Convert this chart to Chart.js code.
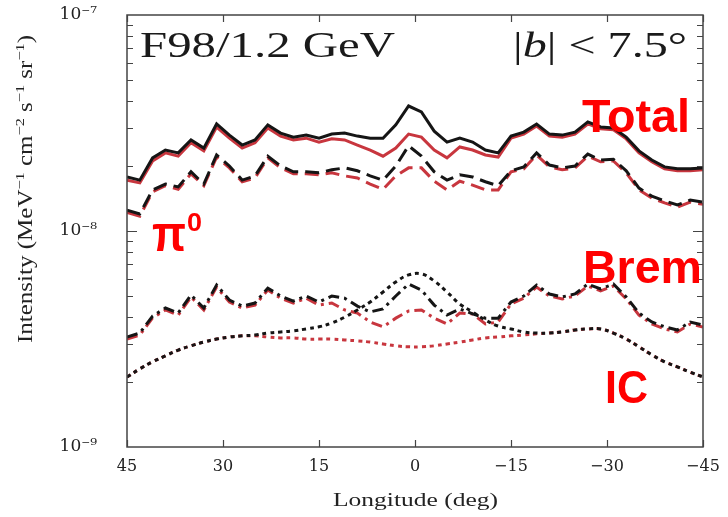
<!DOCTYPE html>
<html>
<head>
<meta charset="utf-8">
<script src="https://cdn.jsdelivr.net/npm/chart.js@4.4.1/dist/chart.umd.min.js"></script>
<style>
  html, body { margin: 0; padding: 0; background: #fff; }
</style>
</head>
<body>
<canvas id="chart" width="728" height="517"></canvas>
<script>
// longitude grid (deg), values in units of 1e-9 MeV^-1 cm^-2 s^-1 sr^-1
const longitude = [45, 43, 41, 39, 37, 35, 33, 31, 29, 27, 25, 23, 21, 19, 17, 15, 13, 11, 9, 7, 5, 3, 1,
  -1, -3, -5, -7, -9, -11, -13, -15, -17, -19, -21, -23, -25, -27, -29, -31, -33, -35, -37, -39, -41, -43, -45];

const totalBlack = [17.8, 17.2, 21.8, 23.7, 23.0, 26.4, 24.2, 31.3, 27.8, 25.0, 26.4, 31.0, 28.4, 27.2, 27.8, 26.9,
  28.1, 28.4, 27.5, 26.9, 26.9, 31.0, 37.9, 35.6, 29.0, 25.8, 26.9, 25.8, 23.7, 23.0, 27.5, 28.7, 31.3, 28.1, 27.8,
  28.7, 32.0, 30.3, 30.0, 27.2, 23.5, 21.3, 19.8, 19.4, 19.4, 19.6];
const totalRed = [17.2, 16.7, 21.1, 23.0, 22.2, 25.6, 23.5, 30.3, 26.9, 24.2, 25.6, 30.0, 27.5, 26.4, 26.9, 25.8,
  26.7, 26.4, 25.0, 23.7, 22.2, 24.2, 28.1, 27.2, 23.7, 21.8, 24.5, 23.7, 22.5, 22.0, 26.9, 28.1, 30.6, 27.5, 27.2,
  28.1, 31.3, 29.7, 29.4, 26.7, 23.0, 20.9, 19.4, 19.0, 19.0, 19.2];

const pionBlack = [12.5, 12.0, 15.5, 16.5, 16.0, 18.8, 16.5, 22.5, 20.0, 17.2, 18.0, 22.2, 20.0, 18.8, 18.8, 18.6,
  19.2, 19.6, 19.0, 18.0, 17.2, 20.0, 24.8, 22.2, 18.8, 17.2, 18.2, 17.8, 16.9, 16.2, 19.0, 19.8, 23.0, 20.2, 19.6,
  20.0, 22.7, 21.3, 21.5, 19.0, 15.8, 14.5, 13.8, 13.2, 13.9, 13.6];
const pionRed = [12.2, 11.7, 15.2, 16.2, 15.6, 18.4, 16.2, 22.0, 19.6, 16.9, 17.6, 21.8, 19.6, 18.4, 18.4, 18.2,
  18.6, 18.0, 17.6, 16.5, 15.6, 18.0, 19.6, 19.6, 17.0, 15.5, 17.0, 16.3, 15.5, 15.5, 18.8, 19.4, 22.5, 19.8, 19.2,
  19.6, 22.2, 20.9, 21.1, 18.6, 15.5, 14.2, 13.5, 12.9, 13.6, 13.3];

const bremBlack = [3.23, 3.37, 4.04, 4.40, 4.17, 5.05, 4.40, 5.62, 4.79, 4.49, 4.64, 5.44, 5.00, 4.74, 5.00, 4.69,
  5.00, 4.89, 4.49, 4.22, 4.36, 5.00, 5.68, 5.33, 4.54, 4.08, 4.36, 4.13, 3.95, 3.95, 4.69, 5.00, 5.62, 5.11, 4.95,
  5.11, 5.68, 5.39, 5.68, 4.95, 4.17, 3.79, 3.60, 3.48, 3.79, 3.67];
const bremRed = [3.16, 3.30, 3.96, 4.31, 4.08, 4.95, 4.31, 5.50, 4.69, 4.40, 4.54, 5.33, 4.89, 4.64, 4.89, 4.54,
  4.64, 4.31, 4.17, 3.79, 3.60, 3.95, 4.26, 4.31, 3.95, 3.71, 4.17, 4.13, 3.71, 3.79, 4.59, 4.89, 5.50, 5.00, 4.85,
  5.00, 5.56, 5.28, 5.56, 4.85, 4.08, 3.71, 3.52, 3.41, 3.71, 3.59];

const icBlack = [2.11, 2.30, 2.48, 2.64, 2.81, 2.94, 3.06, 3.16, 3.23, 3.27, 3.30, 3.37, 3.41, 3.45, 3.52, 3.60,
  3.75, 3.99, 4.31, 4.69, 5.22, 5.81, 6.26, 6.33, 5.87, 5.22, 4.59, 4.22, 3.87, 3.63, 3.52, 3.41, 3.37, 3.37, 3.41,
  3.48, 3.52, 3.52, 3.37, 3.16, 2.91, 2.67, 2.48, 2.35, 2.22, 2.11];
const icRed = [2.11, 2.30, 2.48, 2.64, 2.81, 2.94, 3.06, 3.16, 3.23, 3.27, 3.27, 3.23, 3.20, 3.20, 3.16, 3.16,
  3.16, 3.13, 3.10, 3.06, 3.00, 2.94, 2.91, 2.91, 2.94, 3.00, 3.06, 3.13, 3.20, 3.23, 3.27, 3.30, 3.34, 3.37, 3.41,
  3.48, 3.52, 3.52, 3.37, 3.16, 2.91, 2.67, 2.48, 2.35, 2.22, 2.11];

const yTickValues = [1e-9, 1e-8, 1e-7];
const yTickLabels = ['10\u207B\u2079', '10\u207B\u2078', '10\u207B\u2077'];
const xTickValues = [45, 30, 15, 0, -15, -30, -45];

const UNIT = 1e-9;
const BLACK = '#151515';
const RED = '#c8363e';
const SERIF = '"Liberation Serif", "DejaVu Serif", serif';

const toPoints = arr => longitude.map((l, i) => ({ x: l, y: arr[i] * UNIT }));

function line(data, color, dash, smooth) {
  return {
    data: toPoints(data),
    borderColor: color,
    borderWidth: 3,
    borderDash: dash,
    pointRadius: 0,
    tension: smooth ? 0.4 : 0,
    fill: false
  };
}

// draw a run of text pieces stretched to a given width
function drawFitted(ctx, parts, x, y, width) {
  let total = 0;
  parts.forEach(p => { ctx.font = p.font; p.w = ctx.measureText(p.t).width; total += p.w; });
  ctx.save();
  ctx.translate(x, y);
  ctx.scale(width / total, 1);
  let cx = 0;
  parts.forEach(p => {
    ctx.font = p.font;
    ctx.fillText(p.t, cx, p.dy || 0);
    cx += p.w;
  });
  ctx.restore();
}

const decorations = {
  id: 'decorations',
  afterDraw(chart) {
    const { ctx, chartArea: a, scales } = chart;
    const ys = scales.y, xs = scales.x;
    ctx.save();
    ctx.strokeStyle = '#444';
    ctx.lineWidth = 1.5;
    ctx.strokeRect(a.left, a.top, a.right - a.left, a.bottom - a.top);

    // log minor ticks on both sides
    ctx.lineWidth = 1.2;
    ctx.beginPath();
    [-9, -8].forEach(d => {
      for (let m = 1; m <= 9; m++) {
        if (m === 1 && d === -9) continue;
        const py = Math.round(ys.getPixelForValue(m * Math.pow(10, d))) + 0.5;
        const len = m === 1 ? 10 : 6;
        ctx.moveTo(a.left, py); ctx.lineTo(a.left + len, py);
        ctx.moveTo(a.right, py); ctx.lineTo(a.right - len, py);
      }
    });
    xTickValues.forEach(v => {
      const px = Math.round(xs.getPixelForValue(v)) + 0.5;
      ctx.moveTo(px, a.bottom); ctx.lineTo(px, a.bottom - 7);
      ctx.moveTo(px, a.top); ctx.lineTo(px, a.top + 7);
    });
    ctx.stroke();

    ctx.fillStyle = '#1a1a1a';
    ctx.textBaseline = 'alphabetic';
    drawFitted(ctx, [{ t: 'F98/1.2 GeV', font: '36px ' + SERIF }], 140, 57, 255);
    drawFitted(ctx, [
      { t: '|', font: '36px ' + SERIF },
      { t: 'b', font: 'italic 36px ' + SERIF },
      { t: '| < 7.5\u00B0', font: '36px ' + SERIF }
    ], 513, 57, 174);

    // axis titles
    ctx.fillStyle = '#222';
    drawFitted(ctx, [{ t: 'Longitude (deg)', font: '18px ' + SERIF }], 333, 506, 165);
    ctx.save();
    ctx.translate(32, 343);
    ctx.rotate(-Math.PI / 2);
    const sup = '13px ' + SERIF, base = '20px ' + SERIF;
    drawFitted(ctx, [
      { t: 'Intensity (MeV', font: base },
      { t: '\u22121', font: sup, dy: -8 },
      { t: ' cm', font: base },
      { t: '\u22122', font: sup, dy: -8 },
      { t: ' s', font: base },
      { t: '\u22121', font: sup, dy: -8 },
      { t: ' sr', font: base },
      { t: '\u22121', font: sup, dy: -8 },
      { t: ')', font: base }
    ], 0, 0, 308);
    ctx.restore();

    // component labels
    ctx.fillStyle = '#ff0000';
    const bold = 'bold 46px "Liberation Sans", Arial, sans-serif';
    drawFitted(ctx, [{ t: 'Total', font: bold }], 582, 132, 108);
    drawFitted(ctx, [{ t: 'Brem', font: bold }], 583, 283, 119);
    drawFitted(ctx, [{ t: 'IC', font: bold }], 605, 403, 43);
    drawFitted(ctx, [{ t: '\u03C0', font: 'bold 50px "Liberation Sans", Arial, sans-serif' }], 152, 251, 34);
    drawFitted(ctx, [{ t: '0', font: 'bold 25px "Liberation Sans", Arial, sans-serif' }], 187, 231, 15);
    ctx.restore();
  }
};

new Chart(document.getElementById('chart'), {
  type: 'line',
  data: {
    datasets: [
      line(totalBlack, BLACK, [], false),
      line(pionBlack, BLACK, [14, 7], false),
      line(bremBlack, BLACK, [11, 5, 3, 5], false),
      line(icBlack, BLACK, [4, 4], true),
      line(totalRed, RED, [], false),
      line(pionRed, RED, [14, 7], false),
      line(bremRed, RED, [11, 5, 3, 5], false),
      line(icRed, RED, [4, 4], true)
    ]
  },
  options: {
    responsive: false,
    animation: false,
    layout: { padding: { top: 15, right: 25, left: 0, bottom: 0 } },
    plugins: { legend: { display: false }, tooltip: { enabled: false } },
    scales: {
      x: {
        type: 'linear',
        min: -45,
        max: 45,
        reverse: true,
        afterBuildTicks: s => { s.ticks = xTickValues.map(v => ({ value: v })); },
        ticks: {
          color: '#222',
          padding: 10,
          maxRotation: 0,
          font: { family: 'DejaVu Serif', size: 16 },
          callback: v => (v < 0 ? '\u2212' + Math.abs(v) : String(v))
        },
        grid: { display: false, drawTicks: false },
        border: { display: false },
        afterFit: s => { s.height = 70; s.paddingLeft = 0; s.paddingRight = 0; }
      },
      y: {
        type: 'logarithmic',
        min: 1e-9,
        max: 1e-7,
        afterBuildTicks: s => { s.ticks = yTickValues.map(v => ({ value: v, major: true })); },
        ticks: {
          color: '#222',
          padding: 30,
          font: { family: 'DejaVu Serif', size: 17 },
          callback: v => yTickLabels[Math.round(Math.log10(v)) + 9]
        },
        grid: { display: false, drawTicks: false },
        border: { display: false },
        afterFit: s => { s.width = 127; s.paddingTop = 0; s.paddingBottom = 0; }
      }
    }
  },
  plugins: [decorations]
});
</script>
</body>
</html>
